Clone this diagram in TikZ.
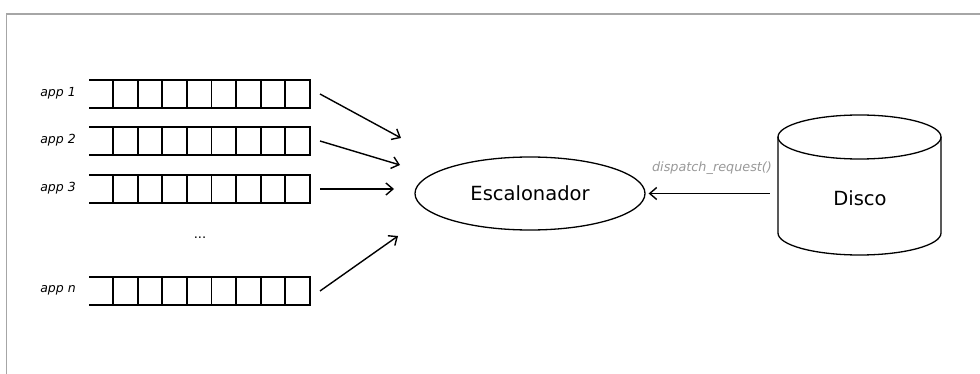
\documentclass[tikz,border=0pt]{standalone}
\usepackage{fontspec}
\setmainfont{DejaVu Sans}
\usetikzlibrary{arrows.meta,shapes.geometric}
\begin{document}
\begin{tikzpicture}[x=1pt,y=-1pt,
  frameline/.style={draw=black!35,line width=1.5pt},
  qline/.style={line width=1.8pt,line cap=rect},
  applabel/.style={font=\fontsize{12.5}{14}\selectfont\itshape,anchor=center},
  flow/.style={line width=1.4pt,-{Straight Barb[length=7pt,width=12pt,line width=1.4pt]}},
  outline/.style={line width=1.3pt}]
\useasboundingbox (0,0) rectangle (980,374);
% outer frame (top and left edges)
\draw[frameline] (6.5,374) -- (6.5,14) -- (980,14);

% application queues: open on the left, eight cells
\foreach \t/\lab/\nm in {80/app 1/q1,127/app 2/q2,175/app 3/q3,277/app n/qn}{
  \draw[qline] (90,\t) -- (310,\t) (90,\t+28) -- (310,\t+28);
  \foreach \k in {0,...,8}
    \draw[qline] (113+\k*24.625,\t) -- (113+\k*24.625,\t+28);
  \node[applabel] at (58,\t+13) {\lab};
  \coordinate (\nm) at (320,\t+14);
}
\node[font=\fontsize{13}{14}\selectfont] (dots) at (200,238) {...};

% scheduler
\node[ellipse,draw,outline,minimum width=230,minimum height=73,inner sep=0,
      font=\fontsize{19.5}{22}\selectfont] (esc) at (530,193.5) {Escalonador};

% disk: sides and lower rim, then the full top rim
\node[minimum width=163,minimum height=141,inner sep=0] (disco) at (859.5,185.5) {};
\draw[outline] (778,137) -- (778,233)
  arc[start angle=180,end angle=0,x radius=81.5,y radius=22] -- (941,137);
\draw[outline] (859.5,137) ellipse[x radius=81.5,y radius=22];
\node[font=\fontsize{19.5}{22}\selectfont] (discolab) at (860,198) {Disco};

% arrow targets near the scheduler
\coordinate (t1) at (401,138);
\coordinate (t2) at (400,165);
\coordinate (t3) at (394,189);
\coordinate (tn) at (398,236);
\draw[flow] (q1) -- (t1);
\draw[flow] (q2) -- (t2);
\draw[flow] (q3) -- (t3);
\draw[flow] (qn) -- (tn);

\coordinate (ds) at ([xshift=-8pt]disco.west |- esc.east);
\draw[flow] (ds) -- ([xshift=3pt]esc.east);
\node[font=\fontsize{12.8}{14}\selectfont\itshape,text=black!40] (lbl) at (712,168) {dispatch\_request()};
\end{tikzpicture}
\end{document}
